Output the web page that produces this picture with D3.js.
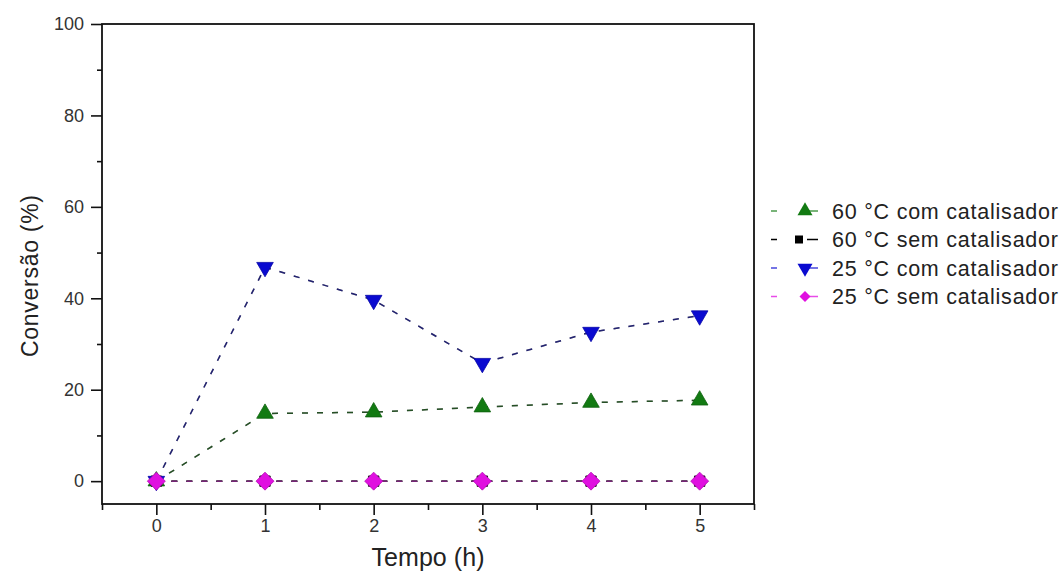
<!DOCTYPE html>
<html>
<head>
<meta charset="utf-8">
<script src="https://cdn.jsdelivr.net/npm/d3@7"></script>
<style>
  html, body { margin: 0; padding: 0; background: #fff; }
  svg { display: block; font-family: "Liberation Sans", Arial, sans-serif; }
</style>
</head>
<body>
<svg id="chart" width="1061" height="572"></svg>
<script>
// Reaction time (h)
const tempo = [0, 1, 2, 3, 4, 5];

// Conversion (%) for each condition
const com60 = [0, 14.8, 15.1, 16.2, 17.2, 17.7];
const sem60 = [0, 0, 0, 0, 0, 0];
const com25 = [0, 46.8, 39.6, 25.8, 32.6, 36.2];
const sem25 = [0, 0, 0, 0, 0, 0];

const seriesNames = ["60 °C com catalisador", "60 °C sem catalisador", "25 °C com catalisador", "25 °C sem catalisador"];
const seriesColors = ["#127a12", "#000000", "#0a0ad0", "#e010e0"];
const seriesSymbols = ["triUp", "square", "triDown", "diamond"];
const seriesValues = [com60, sem60, com25, sem25];

const xMajor = [0, 1, 2, 3, 4, 5];
const xMinor = [-0.5, 0.5, 1.5, 2.5, 3.5, 4.5, 5.5];
const yMajor = [0, 20, 40, 60, 80, 100];
const yMinor = [10, 30, 50, 70, 90];

const svg = d3.select("#chart");
const plotL = 102, plotR = 754, plotT = 24, plotB = 504;

const x = d3.scaleLinear().domain([-0.5, 5.5]).range([plotL, plotR]);
const y = d3.scaleLinear().domain([-5, 100]).range([plotB, plotT]);

// axes with outward ticks
const xAxis = svg.append("g").attr("transform", `translate(0,${plotB})`)
  .call(d3.axisBottom(x).tickValues(xMajor).tickSize(11).tickSizeOuter(0).tickPadding(4).tickFormat(d3.format("d")));
const xAxisMinor = svg.append("g").attr("transform", `translate(0,${plotB})`)
  .call(d3.axisBottom(x).tickValues(xMinor).tickSize(6).tickSizeOuter(0).tickFormat(""));
const yAxis = svg.append("g").attr("transform", `translate(${plotL},0)`)
  .call(d3.axisLeft(y).tickValues(yMajor).tickSize(11).tickSizeOuter(0).tickPadding(7).tickFormat(d3.format("d")));
const yAxisMinor = svg.append("g").attr("transform", `translate(${plotL},0)`)
  .call(d3.axisLeft(y).tickValues(yMinor).tickSize(5).tickSizeOuter(0).tickFormat(""));

[xAxis, xAxisMinor, yAxis, yAxisMinor].forEach(g => {
  g.attr("font-size", 18).attr("font-family", "Liberation Sans, Arial, sans-serif");
  g.select(".domain").remove();
  g.selectAll(".tick line").attr("stroke", "#111").attr("stroke-width", 1.6);
  g.selectAll(".tick text").attr("fill", "#333");
});

// frame
svg.append("rect")
  .attr("x", plotL).attr("y", plotT)
  .attr("width", plotR - plotL).attr("height", plotB - plotT)
  .attr("fill", "none").attr("stroke", "#111").attr("stroke-width", 1.8);

// axis titles
svg.append("text")
  .attr("x", 428).attr("y", 566)
  .attr("text-anchor", "middle")
  .attr("fill", "#222").style("font-size", "25px")
  .attr("textLength", 113).attr("lengthAdjust", "spacing")
  .text("Tempo (h)");
svg.append("text")
  .attr("transform", `translate(38,276) rotate(-90)`)
  .attr("text-anchor", "middle")
  .attr("fill", "#222").style("font-size", "23px")
  .attr("textLength", 162).attr("lengthAdjust", "spacing")
  .text("Conversão (%)");

// marker shapes; r is the half-width of the marker
function markerPath(sym, r) {
  const p = d3.path();
  if (sym === "triUp") {
    const h = r * Math.sqrt(3);
    p.moveTo(0, -h * 2 / 3); p.lineTo(r, h / 3); p.lineTo(-r, h / 3); p.closePath();
  } else if (sym === "triDown") {
    const h = r * Math.sqrt(3);
    p.moveTo(0, h * 2 / 3); p.lineTo(r, -h / 3); p.lineTo(-r, -h / 3); p.closePath();
  } else if (sym === "square") {
    p.rect(-r, -r, 2 * r, 2 * r);
  } else {
    p.moveTo(0, -r); p.lineTo(r, 0); p.lineTo(0, r); p.lineTo(-r, 0); p.closePath();
  }
  return p.toString();
}
const markerRadii = [8.3, 5.2, 8.3, 9];
const legendRadii = [7.5, 4, 7.5, 5.5];

const line = d3.line().x((d, i) => x(tempo[i])).y(d => y(d));

seriesValues.forEach((vals, k) => {
  const g = svg.append("g");
  g.append("path")
    .datum(vals)
    .attr("d", line)
    .attr("fill", "none")
    .attr("stroke", k === 1 ? "#000" : "#333")
    .attr("stroke-width", 1.5)
    .attr("stroke-dasharray", "6,9");
  g.append("path")
    .datum(vals)
    .attr("d", line)
    .attr("fill", "none")
    .attr("stroke", seriesColors[k])
    .attr("stroke-opacity", 0.4)
    .attr("stroke-width", 1.5)
    .attr("stroke-dasharray", "6,9");
  g.selectAll("path.mk")
    .data(vals)
    .join("path")
    .attr("class", "mk")
    .attr("d", markerPath(seriesSymbols[k], markerRadii[k]))
    .attr("transform", (d, i) => `translate(${x(tempo[i])},${y(d)})`)
    .attr("fill", seriesColors[k])
    .attr("stroke", d3.color(seriesColors[k]).darker(0.6))
    .attr("stroke-width", 0.8);
});

// legend
const legend = svg.append("g");
seriesNames.forEach((name, k) => {
  const ly = 211 + k * 28.5;
  const mx = k === 1 ? 799 : 805;
  const row = legend.append("g");
  row.append("line")
    .attr("x1", 771).attr("x2", 818).attr("y1", ly).attr("y2", ly)
    .attr("stroke", k === 1 ? "#000" : seriesColors[k])
    .attr("stroke-opacity", k === 1 ? 1 : 0.75)
    .attr("stroke-width", 1.5)
    .attr("stroke-dasharray", "6,30,11");
  row.append("path")
    .attr("d", markerPath(seriesSymbols[k], legendRadii[k]))
    .attr("transform", `translate(${mx},${ly})`)
    .attr("fill", seriesColors[k]);
  row.append("text")
    .attr("x", 832).attr("y", ly)
    .attr("dy", "0.36em")
    .attr("fill", "#222").style("font-size", "21.5px")
    .attr("textLength", 226).attr("lengthAdjust", "spacing")
    .text(name);
});
</script>
</body>
</html>
